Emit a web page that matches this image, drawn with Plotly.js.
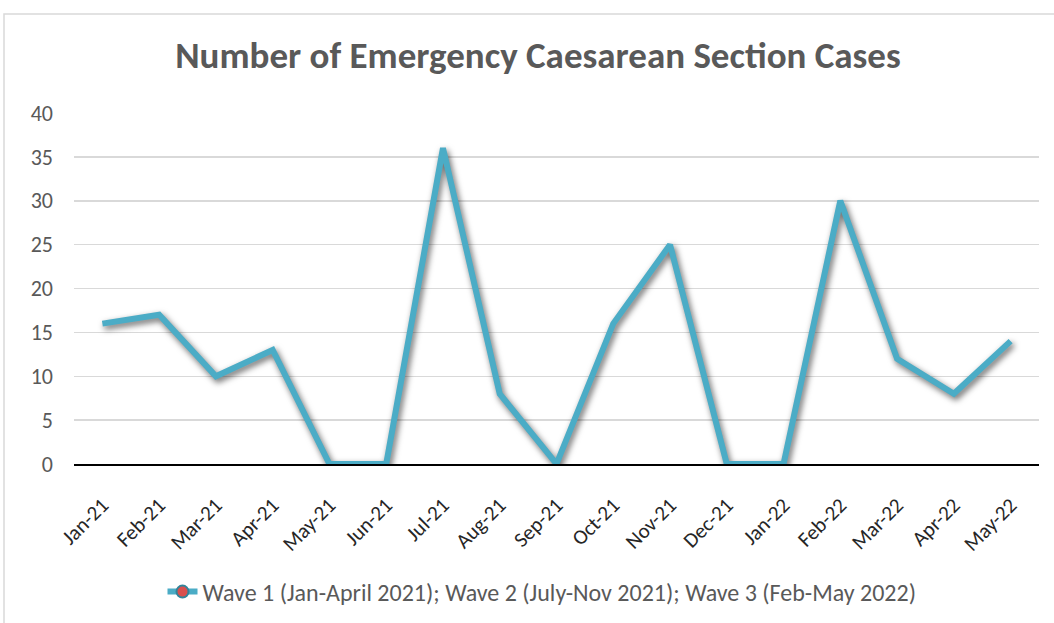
<!DOCTYPE html>
<html>
<head>
<meta charset="utf-8">
<script src="https://cdn.plot.ly/plotly-3.0.1.min.js"></script>
<style>
  html, body { margin: 0; padding: 0; background: #fff; overflow: hidden; }
  #chart { width: 1054px; height: 623px; }
  .scatterlayer .trace:first-child path.js-line { filter: drop-shadow(2px 3px 3px rgba(0,0,0,0.6)); }
</style>
</head>
<body>
<div id="chart"></div>
<script>
const months = ["Jan-21","Feb-21","Mar-21","Apr-21","May-21","Jun-21","Jul-21","Aug-21","Sep-21","Oct-21","Nov-21","Dec-21","Jan-22","Feb-22","Mar-22","Apr-22","May-22"];
const cases = [16, 17, 10, 13, 0, 0, 36, 8, 0, 16, 25, 0, 0, 30, 12, 8, 14];
const seriesName = "Wave 1 (Jan-April 2021); Wave 2 (July-Nov 2021); Wave 3 (Feb-May 2022)";
const yTicks = [0, 5, 10, 15, 20, 25, 30, 35, 40];

const W = 1054, H = 623;
const L = 74, R = 1039, T = 113, B = 464;
const pw = R - L, ph = B - T;
const px = v => (v - L) / pw;
const py = v => (B - v) / ph;

const FONT = "Carlito, Lato, 'Open Sans', sans-serif";

const traces = [
  {
    x: months, y: cases, type: "scatter", mode: "lines",
    line: { color: "#4bacc6", width: 6, shape: "linear" },
    showlegend: false, hoverinfo: "x+y", cliponaxis: false
  },
  {
    x: [null], y: [null], type: "scatter", mode: "lines+markers",
    name: seriesName,
    line: { color: "#4bacc6", width: 6 },
    marker: { color: "#d9504e", size: 12, line: { color: "#31849b", width: 2 } },
    showlegend: true
  }
];

const layout = {
  width: W, height: H,
  paper_bgcolor: "#ffffff", plot_bgcolor: "#ffffff",
  margin: { l: L, r: W - R, t: T, b: H - B, pad: 0, autoexpand: false },
  title: {
    text: "<b>Number of Emergency Caesarean Section Cases</b>",
    font: { family: FONT, size: 37, color: "#595959" },
    x: px(538), xanchor: "center", xref: "paper",
    y: 1 - 55 / H, yanchor: "middle", yref: "container"
  },
  xaxis: {
    type: "category", categoryorder: "array", categoryarray: months,
    tickvals: months, ticktext: months,
    range: [-0.5, months.length - 0.5],
    showgrid: false, zeroline: false, automargin: false,
    showline: true, linecolor: "#000000", linewidth: 1.5,
    ticks: "", tickangle: -45, ticklabelstandoff: 19,
    tickfont: { family: FONT, size: 21, color: "#262626" },
    fixedrange: true
  },
  yaxis: {
    range: [0, 40], tickvals: yTicks, ticktext: yTicks.map(String),
    showgrid: true, gridcolor: "#d9d9d9", gridwidth: 1.5,
    zeroline: false, showline: false, ticks: "", automargin: false,
    ticklabelstandoff: 20,
    tickfont: { family: FONT, size: 22, color: "#595959" },
    fixedrange: true
  },
  legend: {
    orientation: "h", x: px(542), xanchor: "center",
    y: 1 - 592 / H, yanchor: "middle", yref: "container",
    font: { family: FONT, size: 24, color: "#595959" },
    bgcolor: "rgba(0,0,0,0)", itemwidth: 30
  },
  shapes: [
    {
      type: "rect", xref: "paper", yref: "paper",
      x0: px(4), x1: px(1070), y0: py(640), y1: py(14),
      line: { color: "#d9d9d9", width: 1.5 }, fillcolor: "rgba(0,0,0,0)", layer: "below"
    }
  ],
  showlegend: true
};

Plotly.newPlot("chart", traces, layout, { staticPlot: true, displayModeBar: false });
</script>
</body>
</html>
